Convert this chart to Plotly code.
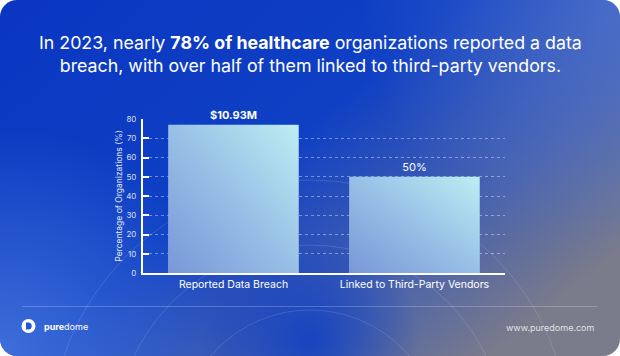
import base64
import plotly.graph_objects as go

# ---- data ----
categories = ["Reported Data Breach", "Linked to Third-Party Vendors"]
values = [77, 50]
bar_labels = ["<b>$10.93M</b>", "50%"]
y_ticks = [0, 10, 20, 30, 40, 50, 60, 70, 80]
title_text = ("In 2023, nearly <b>78% of healthcare</b> organizations reported a data<br>"
              "breach, with over half of them linked to third-party vendors.")
y_title = "Percentage of Organizations (%)"
brand = "<b>pure</b>dome"
url = "www.puredome.com"

W, H = 620, 356
ML, MR, MT, MB = 143, 115, 119, 83
PW, PH = W - ML - MR, H - MT - MB
BAR_W = 0.72


def svg_uri(svg):
    return "data:image/svg+xml;base64," + base64.b64encode(svg.encode()).decode()


bg_svg = f"""<svg xmlns='http://www.w3.org/2000/svg' width='{W}' height='{H}' viewBox='0 0 {W} {H}'>
<defs>
<linearGradient id='base' x1='0' y1='0' x2='1' y2='0.7'>
<stop offset='0' stop-color='#0a36c1'/>
<stop offset='0.5' stop-color='#0f40c4'/>
<stop offset='0.78' stop-color='#4761ae'/>
<stop offset='1' stop-color='#7a7b8b'/>
</linearGradient>
<radialGradient id='gl1' cx='0' cy='{H}' r='230' gradientUnits='userSpaceOnUse'>
<stop offset='0' stop-color='#4f7fe0' stop-opacity='0.75'/>
<stop offset='1' stop-color='#4f7fe0' stop-opacity='0'/>
</radialGradient>
<radialGradient id='gl2' cx='{W}' cy='0' r='260' gradientUnits='userSpaceOnUse'>
<stop offset='0' stop-color='#5a7fd6' stop-opacity='0.55'/>
<stop offset='1' stop-color='#5a7fd6' stop-opacity='0'/>
</radialGradient>
<radialGradient id='gl3' cx='310' cy='340' r='110' gradientUnits='userSpaceOnUse'>
<stop offset='0' stop-color='#0a3cc4' stop-opacity='0.8'/>
<stop offset='1' stop-color='#0a3cc4' stop-opacity='0'/>
</radialGradient>
<clipPath id='c'><rect x='0' y='0' width='{W}' height='{H}' rx='17' ry='17'/></clipPath>
</defs>
<rect width='{W}' height='{H}' fill='#ffffff'/>
<g clip-path='url(#c)'>
<rect width='{W}' height='{H}' fill='url(#base)'/>
<rect width='{W}' height='{H}' fill='url(#gl1)'/>
<rect width='{W}' height='{H}' fill='url(#gl2)'/>
<rect width='{W}' height='{H}' fill='url(#gl3)'/>
<g fill='none' stroke='#ffffff' stroke-opacity='0.13' stroke-width='1'>
<circle cx='310' cy='440' r='130'/>
<circle cx='310' cy='440' r='195'/>
<circle cx='310' cy='440' r='260'/>
</g>
<line x1='22' y1='306.5' x2='597' y2='306.5' stroke='#ffffff' stroke-opacity='0.22' stroke-width='1'/>
<circle cx='28.5' cy='326' r='7' fill='#ffffff'/>
<path d='M26 322.5 h2.2 a3.5 3.5 0 0 1 0 7 h-2.2 z' fill='#2356cc'/>
</g>
</svg>"""

bar_svg = """<svg xmlns='http://www.w3.org/2000/svg' width='100' height='100' viewBox='0 0 100 100' preserveAspectRatio='none'>
<defs><linearGradient id='b' x1='0' y1='1' x2='1' y2='0'>
<stop offset='0' stop-color='#7897d8'/>
<stop offset='0.5' stop-color='#98c0e6'/>
<stop offset='1' stop-color='#bdeef3'/>
</linearGradient></defs>
<rect width='100' height='100' fill='url(#b)'/>
</svg>"""

fig = go.Figure()
fig.add_trace(go.Bar(
    x=categories, y=values, text=bar_labels, textposition="outside",
    marker=dict(color="#9cc4e8", line=dict(width=0)),
    textfont=dict(family="Inter, Arial, sans-serif", size=11, color="#ffffff"),
    cliponaxis=False, hoverinfo="skip",
))

images = [dict(
    source=svg_uri(bg_svg), xref="paper", yref="paper",
    x=-ML / PW, y=1 + MT / PH, sizex=W / PW, sizey=H / PH,
    xanchor="left", yanchor="top", sizing="stretch", layer="below",
)]
for i, v in enumerate(values):
    images.append(dict(
        source=svg_uri(bar_svg), xref="x", yref="y",
        x=i - BAR_W / 2, y=v, sizex=BAR_W, sizey=v,
        xanchor="left", yanchor="top", sizing="stretch", layer="above",
    ))

fig.update_layout(
    width=W, height=H,
    margin=dict(l=ML, r=MR, t=MT, b=MB, pad=0),
    paper_bgcolor="#ffffff", plot_bgcolor="rgba(0,0,0,0)",
    showlegend=False, bargap=1 - BAR_W,
    images=images,
    font=dict(family="Inter, Arial, sans-serif", color="#ffffff"),
    xaxis=dict(
        showline=True, linecolor="#ffffff", linewidth=2, showgrid=False,
        ticks="", tickfont=dict(size=10.5, color="#ffffff"), fixedrange=True,
    ),
    yaxis=dict(
        range=[0, 80], tickvals=y_ticks, showline=True, linecolor="#ffffff", linewidth=2,
        ticks="inside", ticklen=6, tickwidth=2, tickcolor="#ffffff",
        tickfont=dict(size=8, color="rgba(255,255,255,0.85)"),
        showgrid=True, gridcolor="rgba(255,255,255,0.4)", griddash="3px,3px", gridwidth=1,
        zeroline=False, ticklabelstandoff=3,
        title=dict(text=y_title, font=dict(size=8.5, color="rgba(255,255,255,0.9)"), standoff=2),
        fixedrange=True,
    ),
    annotations=[
        dict(text=title_text, xref="paper", yref="paper", x=(310 - ML) / PW,
             y=1 + (MT - 54) / PH, xanchor="center", yanchor="middle", showarrow=False,
             align="center", font=dict(size=17.8, color="#ffffff", family="Inter, Arial, sans-serif")),
        dict(text=brand, xref="paper", yref="paper", x=(42 - ML) / PW,
             y=-(326 - MT - PH) / PH, xanchor="left", yanchor="middle", showarrow=False,
             font=dict(size=9, color="#ffffff")),
        dict(text=url, xref="paper", yref="paper", x=(597 - ML) / PW,
             y=-(327 - MT - PH) / PH, xanchor="right", yanchor="middle", showarrow=False,
             font=dict(size=9, color="rgba(255,255,255,0.8)")),
    ],
)

fig.write_html("out.html", config={"displayModeBar": False},
               post_script="document.body.style.margin='0';document.body.style.padding='0';")
